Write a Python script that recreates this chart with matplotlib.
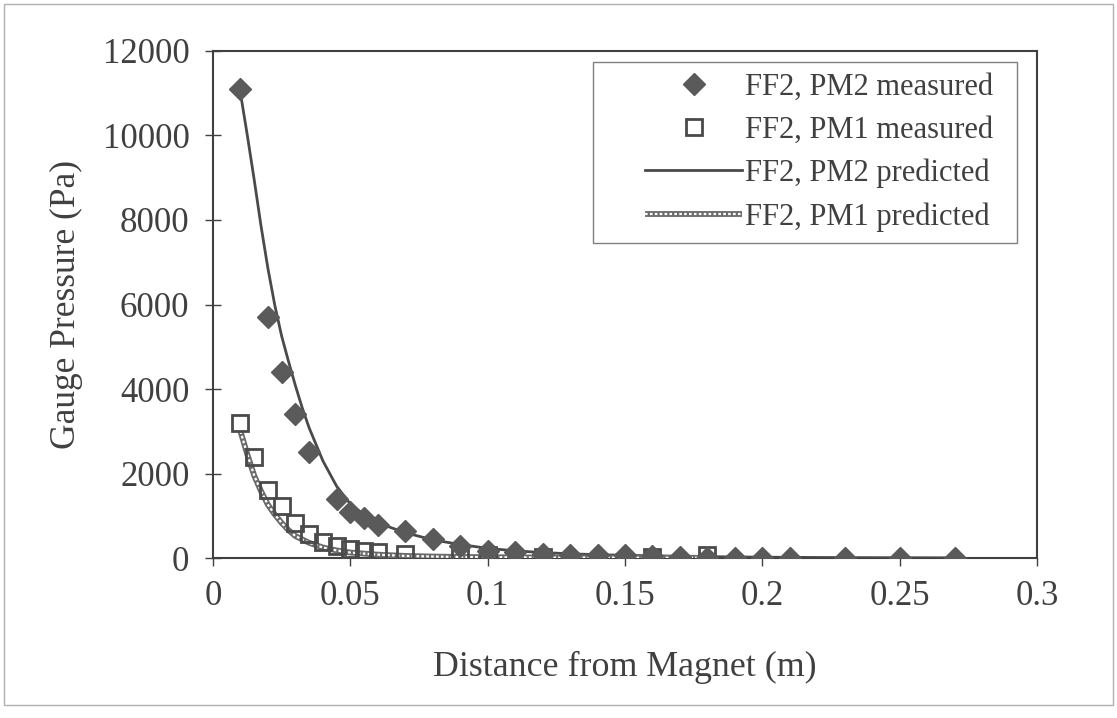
import matplotlib
matplotlib.use('Agg')
import matplotlib.pyplot as plt
from matplotlib.patches import Rectangle

# 测量数据 FF2, PM2 (菱形)
pm2_x = [0.01, 0.02, 0.025, 0.03, 0.035, 0.045, 0.05, 0.055, 0.06, 0.07, 0.08, 0.09,
         0.1, 0.11, 0.12, 0.13, 0.14, 0.15, 0.16, 0.17, 0.18, 0.19, 0.2, 0.21, 0.23, 0.25, 0.27]
pm2_y = [11100, 5700, 4400, 3400, 2500, 1400, 1100, 940, 780, 640, 450, 280,
         170, 140, 100, 70, 60, 60, 45, 20, 10, 5, 5, 0, 0, 0, 0]

# 测量数据 FF2, PM1 (空心方块)
pm1_x = [0.01, 0.015, 0.02, 0.025, 0.03, 0.035, 0.04, 0.045, 0.05, 0.055, 0.06, 0.07,
         0.09, 0.1, 0.12, 0.16, 0.18]
pm1_y = [3200, 2400, 1600, 1220, 840, 580, 380, 290, 220, 170, 150, 100,
         80, 60, 20, 30, 60]

# 预测曲线 PM2 (实线)
pred2_x = [0.01, 0.0125, 0.015, 0.0175, 0.02, 0.0225, 0.025, 0.0275, 0.03, 0.0325,
           0.035, 0.04, 0.045, 0.05, 0.055, 0.06, 0.07, 0.08, 0.09, 0.1, 0.11,
           0.12, 0.13, 0.14, 0.15, 0.17, 0.2, 0.23, 0.27]
pred2_y = [11000, 10000, 8950, 7850, 6850, 5980, 5250, 4650, 4080, 3550,
           3080, 2300, 1700, 1280, 1020, 830, 600, 430, 320, 230, 170,
           130, 100, 80, 65, 40, 20, 10, 5]

# 预测曲线 PM1 (点状线)
pred1_x = [0.01, 0.0125, 0.015, 0.0175, 0.02, 0.0225, 0.025, 0.0275, 0.03, 0.035,
           0.04, 0.045, 0.05, 0.06, 0.07, 0.08, 0.09, 0.1, 0.12, 0.15, 0.18]
pred1_y = [3000, 2450, 1950, 1580, 1260, 1030, 830, 660, 520, 360,
           250, 180, 130, 80, 50, 35, 25, 20, 12, 8, 5]

xticks = [0, 0.05, 0.1, 0.15, 0.2, 0.25, 0.3]
xtick_labels = ['0', '0.05', '0.1', '0.15', '0.2', '0.25', '0.3']
yticks = [0, 2000, 4000, 6000, 8000, 10000, 12000]

ink = '#404040'
plt.rcParams['font.family'] = ['Liberation Serif', 'DejaVu Serif']

fig = plt.figure(figsize=(11.17, 7.18), dpi=100)
ax = fig.add_axes([0.1907, 0.2228, 0.7377, 0.7062])

# 预测线
l2, = ax.plot(pred2_x, pred2_y, color='#4a4a4a', lw=2.0, zorder=3)
l1a, = ax.plot(pred1_x, pred1_y, color='#6a6a6a', lw=4.2, zorder=3,
               solid_capstyle='butt')
l1b, = ax.plot(pred1_x, pred1_y, color='white', lw=1.6, zorder=3.1,
               linestyle=(0, (1.2, 1.0)))

# 测量点
m1, = ax.plot(pm1_x, pm1_y, 's', ms=12, mfc='none', mec='#4a4a4a', mew=2.0,
              zorder=4, linestyle='none')
m2, = ax.plot(pm2_x, pm2_y, 'D', ms=11, mfc='#5a5a5a', mec='#5a5a5a', mew=1.0,
              zorder=5, linestyle='none')

ax.set_xlim(0, 0.3)
ax.set_ylim(0, 12000)
ax.set_xticks(xticks)
ax.set_xticklabels(xtick_labels)
ax.set_yticks(yticks)

for s in ax.spines.values():
    s.set_color(ink)
    s.set_linewidth(1.5)

ax.tick_params(axis='y', direction='inout', length=12, width=1.0, colors=ink,
               labelsize=25, pad=11)
ax.tick_params(axis='x', direction='out', length=6, width=1.0, colors=ink,
               labelsize=25, pad=10)

ax.set_xlabel('Distance from Magnet (m)', fontsize=25.8, color=ink, labelpad=27)
ax.set_ylabel('Gauge Pressure (Pa)', fontsize=25.5, color=ink, labelpad=14)

# 图例 (边框另画)
leg = ax.legend([m2, m1, l2, (l1a, l1b)],
                ['FF2, PM2 measured', 'FF2, PM1 measured',
                 'FF2, PM2 predicted', 'FF2, PM1 predicted'],
                loc='upper right', bbox_to_anchor=(1015 / 1117, 1 - 51 / 718),
                bbox_transform=fig.transFigure, fontsize=22, frameon=False,
                handlelength=3.2, handletextpad=0.1, labelspacing=0.46,
                borderpad=0.2, markerscale=1.0)
for t in leg.get_texts():
    t.set_color(ink)
fig.patches.append(Rectangle((593 / 1117, 1 - 243 / 718), 424 / 1117, 181 / 718,
                             transform=fig.transFigure, fill=False,
                             edgecolor='#808080', lw=1.0, zorder=10))

# 外边框
fig.patches.append(Rectangle((0.004, 0.018), 0.992, 0.976, transform=fig.transFigure,
                             fill=False, edgecolor='#b0b0b0', lw=1.0))

fig.savefig('out.png', dpi=100)
